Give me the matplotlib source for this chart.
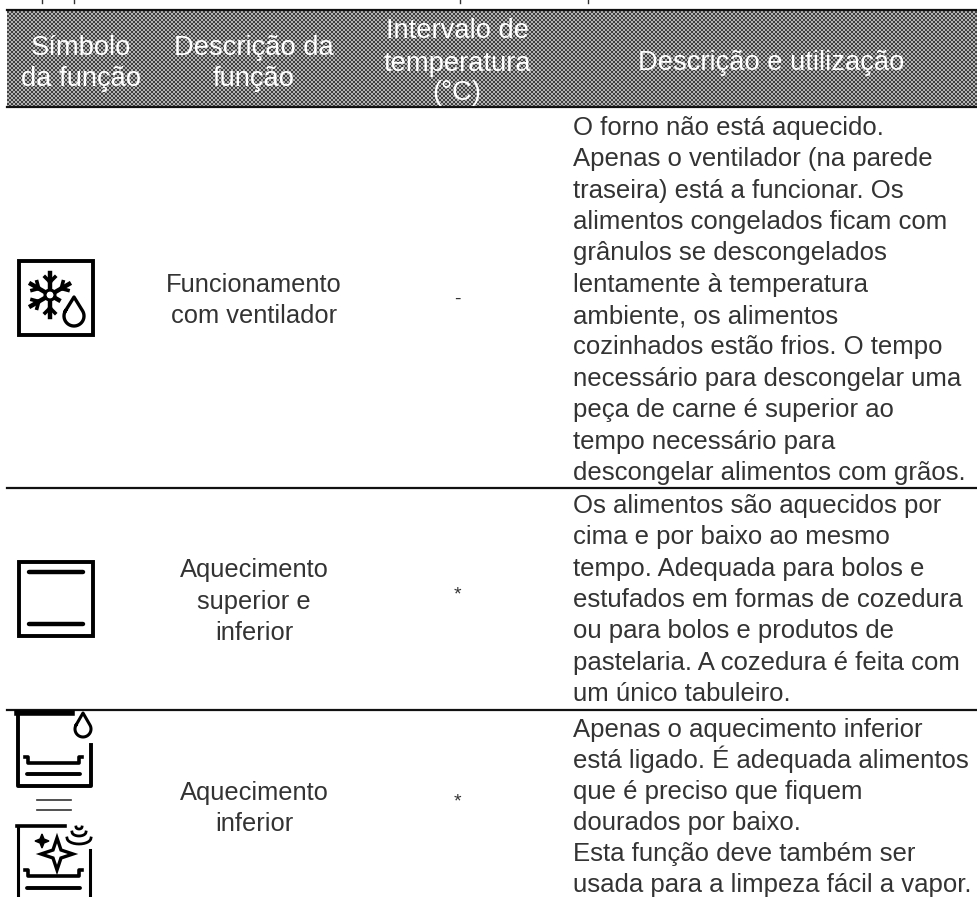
import numpy as np
import matplotlib
matplotlib.use('Agg')
import matplotlib.pyplot as plt
from matplotlib.patches import Rectangle, Circle, Polygon

plt.rcParams['font.family'] = ['Liberation Sans', 'DejaVu Sans']

W, H = 978, 897

headers = [['Símbolo', 'da função'], ['Descrição da', 'função'], ['Intervalo de', 'temperatura', '(°C)'], ['Descrição e utilização']]
header_x = [81, 254, 457, 771]
header_y = [[48, 79], [48, 79], [31, 64, 93], [63]]
names = [['Funcionamento', 'com ventilador'], ['Aquecimento', 'superior e', 'inferior'], ['Aquecimento', 'inferior']]
name_y = [[292, 323], [577, 609, 640], [800, 831]]
temps = ['-', '*', '*']
temp_y = [299, 595, 802]
rules = [107, 488, 710]
descr = [
    ['O forno não está aquecido.', 'Apenas o ventilador (na parede', 'traseira) está a funcionar. Os',
     'alimentos congelados ficam com', 'grânulos se descongelados', 'lentamente à temperatura',
     'ambiente, os alimentos', 'cozinhados estão frios. O tempo', 'necessário para descongelar uma',
     'peça de carne é superior ao', 'tempo necessário para', 'descongelar alimentos com grãos.'],
    ['Os alimentos são aquecidos por', 'cima e por baixo ao mesmo', 'tempo. Adequada para bolos e',
     'estufados em formas de cozedura', 'ou para bolos e produtos de', 'pastelaria. A cozedura é feita com',
     'um único tabuleiro.'],
    ['Apenas o aquecimento inferior', 'está ligado. É adequada alimentos', 'que é preciso que fiquem',
     'dourados por baixo.', 'Esta função deve também ser', 'usada para a limpeza fácil a vapor.'],
]
descr_y = [135, 513, 737]
descr_step = [31.35, 31.35, 31]

TXT = '#333333'
fig = plt.figure(figsize=(W / 100, H / 100), dpi=100)
ax = fig.add_axes([0, 0, 1, 1])

# dithered header band
yy, xx = np.mgrid[0:96, 0:971]
checker = ((xx // 2 + yy // 2) % 2) * 0.45 + 0.25
ax.imshow(checker, cmap='gray', vmin=0, vmax=1, extent=(7, 978, 107, 11), aspect='auto', interpolation='nearest')
ax.set_xlim(0, W)
ax.set_ylim(H, 0)
ax.axis('off')
for y in [10.5] + rules:
    ax.plot([7, 978], [y, y], color='#111111', lw=1.6)

for x, lines, ys in zip(header_x, headers, header_y):
    for line, y in zip(lines, ys):
        ax.text(x, y, line, color='white', fontsize=19.7, ha='center', va='center')

# clipped descenders from the line above
for x in [42, 74, 460, 588]:
    ax.plot([x, x], [0, 3], color='#333333', lw=1)

for lines, ys, t, ty in zip(names, name_y, temps, temp_y):
    for line, y in zip(lines, ys):
        ax.text(254, y, line, color=TXT, fontsize=18.4, ha='center', va='baseline')
    ax.text(457, ty, t, color=TXT, fontsize=14, ha='center', va='center')
for lines, y0, step in zip(descr, descr_y, descr_step):
    for i, line in enumerate(lines):
        ax.text(573, y0 + i * step, line, color=TXT, fontsize=18.5, ha='left', va='baseline')


def box(x0, y0, x1, y1):
    ax.add_patch(Rectangle((x0, y0), x1 - x0, y1 - y0, fill=False, ec='black', lw=2.8))


def drop(cx, top, bottom, r, lw=2.2):
    t = np.deg2rad(np.linspace(150, 390, 30))
    c = bottom - r
    px = cx + r * np.cos(t)
    py = c - r * np.sin(t)
    ax.plot(list(px) + [cx, px[0]], list(py) + [top, py[0]], color='black', lw=lw, solid_joinstyle='round')


def tray(x0, x1, y, y2):
    ax.plot([x0, x0 + 3, x0 + 3, x1 - 3, x1 - 3, x1], [y, y, y + 6, y + 6, y, y], color='black', lw=2.6)
    ax.plot([x0 + 2, x1 - 2], [y2, y2], color='black', lw=2.8, solid_capstyle='round')


# fan defrost icon, lower right arm gives way to the drop
box(19, 261, 93, 335)
cx, cy = 50, 295
for a in np.arange(0, 360, 60) + 30:
    r = np.deg2rad(a)
    ux, uy = np.cos(r), np.sin(r)
    reach = 10 if a == 30 else 22
    ax.plot([cx + 6 * ux, cx + reach * ux], [cy + 6 * uy, cy + reach * uy], color='black', lw=3.2)
    if a == 30:
        continue
    for s in (-1, 1):
        q = r + s * np.pi / 4
        ax.plot([cx + 13 * ux, cx + 13 * ux + 7 * np.cos(q)], [cy + 13 * uy, cy + 13 * uy + 7 * np.sin(q)], color='black', lw=2.6)
ax.add_patch(Circle((cx, cy), 5, fill=False, ec='black', lw=2.2))
drop(74, 297, 326, 10, lw=2.4)

# top and bottom heat icon
box(19, 562, 93, 636)
ax.plot([29, 83], [572, 572], color='black', lw=3.2, solid_capstyle='round')
ax.plot([29, 83], [624, 624], color='black', lw=3.2, solid_capstyle='round')

# bottom heat icon, cut by the rule above
ax.plot([18, 18, 91, 91], [712, 786, 786, 745], color='black', lw=2.8)
ax.plot([17, 72], [713, 713], color='black', lw=4)
drop(83, 713, 737, 8)
tray(25, 82, 757, 774)

# equals sign between the icons
ax.plot([37, 71], [800, 800], color='#333333', lw=1.2)
ax.plot([37, 71], [810, 810], color='#333333', lw=1.2)

# steam clean icon
ax.plot([18, 18], [826, 897], color='black', lw=2.2)
ax.plot([17, 65], [826, 826], color='black', lw=2.6)
ax.plot([90, 90], [850, 897], color='black', lw=2.2)
ax.add_patch(Polygon(list(zip([57, 61, 73, 61, 57, 53, 41, 53], [838, 850, 854, 858, 870, 858, 854, 850])), fill=False, ec='black', lw=2.4))
ax.add_patch(Polygon(list(zip([42, 44, 49, 44, 42, 40, 35, 40], [834, 839, 841, 843, 848, 843, 841, 839])), color='black'))
for w, y, sag in zip([3, 7, 12], [827, 832, 838], [2, 4, 6]):
    t = np.linspace(0, np.pi, 15)
    ax.plot(79 + w * np.cos(t), y + sag * np.sin(t), color='black', lw=2)
tray(25, 82, 870, 888)

fig.savefig('out.png', dpi=100)
